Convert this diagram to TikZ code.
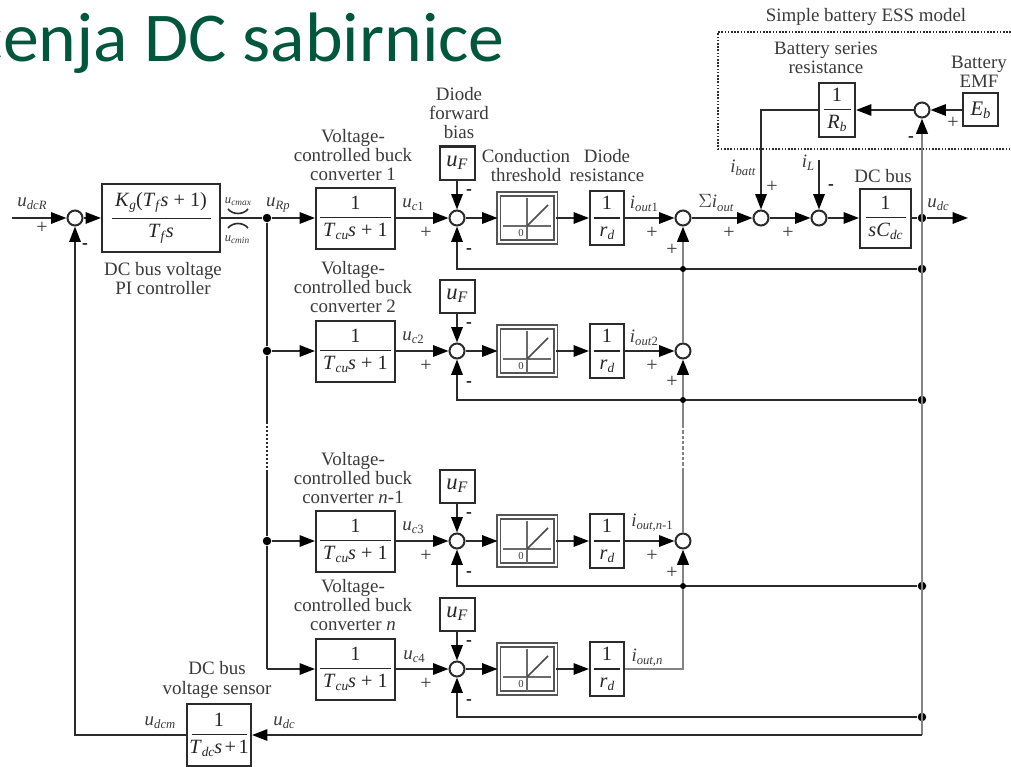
\documentclass[tikz,border=0pt]{standalone}
\usepackage{fontspec}
\setmainfont{Liberation Serif}
\newfontfamily\titlefont{Carlito}
\usetikzlibrary{arrows.meta,calc}
\definecolor{ln}{HTML}{2B2B2B}
\definecolor{tx}{HTML}{3A3A3A}
\definecolor{ttl}{HTML}{00573C}
\newcommand{\sbs}[1]{\raisebox{-.35ex}{\fontsize{9.5}{9.5}\selectfont #1}}
\newcommand{\fsub}[1]{\raisebox{-.35ex}{\fontsize{10}{10}\selectfont #1}}
\newcommand{\ffr}[3]{$\displaystyle{\mbox{#2}\above 1.2pt\makebox[\dimexpr #1pt*3/4\relax]{#3}}$}
\newcommand{\Tcu}{\textit{T}\fsub{\textit{cu}}\textit{s} + 1}
\tikzset{
  x=.75pt,y=-.75pt,
  wire/.style={draw=ln,line width=1.35pt},
  wireg/.style={draw=ln!58,line width=2.2pt},
  arr/.style={wire,-{Triangle[length=11.5pt,width=8.5pt,color=black]}},
  arrg/.style={wireg,-{Triangle[length=11.5pt,width=8.5pt,color=black]}},
  blk/.style 2 args={draw=ln,line width=1.5pt,fill=white,inner sep=0pt,text=black!85,minimum width=#1*.75pt,minimum height=#2*.75pt,font=\fontsize{15.2}{15.5}\selectfont},
  dio/.style={draw=ln!80,double=white,double distance=1.5pt,line width=1.4pt,inner sep=0pt,fill=white,minimum width=57*.75pt,minimum height=48*.75pt},
  sumn/.style={circle,draw=ln,line width=1.5pt,fill=white,minimum size=15*.75pt,inner sep=0pt},
  jdot/.style={circle,fill=black,minimum size=8.5*.75pt,inner sep=0pt},
  hump/.style={circle,fill=black,minimum size=6*.75pt,inner sep=0pt},
  lab/.style={text=tx,font=\fontsize{14.2}{14.4}\selectfont,align=center,inner sep=0pt},
  sgn/.style={text=tx,font=\fontsize{15}{15}\selectfont,inner sep=0pt},
  neg/.style={text=black,font=\bfseries\fontsize{13}{13}\selectfont,inner sep=0pt},
  smalllab/.style={text=tx,font=\fontsize{9.5}{9.5}\selectfont,inner sep=0pt},
}
\begin{document}
\begin{tikzpicture}
\useasboundingbox (0,0) rectangle (1011,767);
\fill[white] (0,0) rectangle (1011,767);
% title
\node[anchor=base east,inner sep=0pt,text=ttl,font=\titlefont\fontsize{52.5}{52.5}\selectfont] (title) at (505,62) {\scalebox{1.025}[1]{cenja DC sabirnice}};

% dotted ESS frame
\coordinate (ftr) at (1011,32);
\coordinate (fbr) at (1011,149);
\draw[draw=ln,line width=1.2pt,dash pattern=on 1.2pt off 1.2pt] (ftr) -- (718,32) -- (718,149) -- (fbr);

% main blocks
\node[sumn] (s0) at (75,218) {};
\node[blk={118}{68}] (pi) at (161,218) {\ffr{99}{\textit{K}\fsub{\textit{g}}(\textit{T}\fsub{\textit{f}}\textit{s} + 1)}{\textit{T}\fsub{\textit{f}}\textit{s}}};
\coordinate (in0) at (12,218);
\node[jdot] (j1) at (267,218) {};
\node[jdot] (j2) at (267,351) {};
\node[jdot] (j3) at (267,541) {};
\coordinate (j4) at (267,669);
\coordinate (jm1) at (267,422);
\coordinate (jm2) at (267,470);

\foreach \i/\y in {1/218,2/351,3/541,4/669}{
  \node[blk={79}{61}] (b\i) at (355.5,\y) {\ffr{71}{1}{\Tcu}};
  \node[sumn] (s\i) at (457,\y) {};
  \node[dio] (d\i) at (527,\y) {};
  \node[blk={34}{54}] (r\i) at (607,\y) {\ffr{26}{1}{\textit{r}\fsub{\textit{d}}}};
  \node[blk={35}{33},font=\fontsize{17}{17}\selectfont] (u\i) at (457,\y-55) {\textit{u}\raisebox{-.3ex}{\fontsize{12}{12}\selectfont\textit{F}}};
  % nonlinearity
  \draw[draw=ln!70,line width=1.3pt] (503,\y+8) -- (551,\y+8);
  \draw[draw=ln!70,line width=1.3pt] (527,\y-20) -- (527,\y+22);
  \draw[draw=ln!85,line width=1.3pt] (527,\y+8) -- (548,\y-13);
  \node[inner sep=0pt,text=tx,fill=white,font=\fontsize{8}{8}\selectfont] at (521,\y+15) {0};
  % signs
  \node[sgn] at (426,\y+15) {+};
  \node[neg] at (469,\y-26) {-};
  \node[neg] at (469,\y+33) {-};
  \draw[arr] (b\i) -- (s\i);
  \draw[arr] (s\i) -- (d\i);
  \draw[arr] (d\i) -- (r\i);
  \draw[arr] (u\i) -- (s\i);
}
\node[sumn] (o1) at (683,218) {};
\node[sumn] (o2) at (683,351) {};
\node[sumn] (o3) at (683,541) {};
\coordinate (om1) at (683,425);
\coordinate (om2) at (683,470);

\node[sumn] (sb) at (761,218) {};
\node[sumn] (sl) at (819,218) {};
\node[blk={51}{59}] (c) at (885.5,218) {\ffr{40}{1}{\textit{sC}\fsub{\textit{dc}}}};
\node[jdot] (jo) at (922,218) {};
\coordinate (out) at (968,218);
\node[sumn] (se) at (922,110) {};
\node[blk={36}{54}] (rb) at (837,110) {\ffr{27}{1}{\textit{R}\fsub{\textit{b}}}};
\node[blk={35}{33},font=\fontsize{15.5}{15.5}\selectfont] (eb) at (980.5,110) {\textit{E}\raisebox{-.3ex}{\fontsize{11}{11}\selectfont\textit{b}}};
\coordinate (il) at (819,160);
\node[jdot] (f1) at (922,269) {};
\node[jdot] (f2) at (922,400) {};
\node[jdot] (f3) at (922,586) {};
\node[jdot] (f4) at (922,717) {};
\coordinate (fb) at (922,735);
\node[blk={64}{62}] (sens) at (219,735) {\ffr{55}{1}{\textit{T}\fsub{\textit{dc}}\textit{s}\kern.12em+\kern.12em1}};

% thick verticals and dotted parts
\draw[arrg] (o2) -- (o1);
\draw[arrg] (om1) -- (o2);
\draw[wireg] (om2) -- (o3);
\draw[wireg,dash pattern=on 2.5pt off 1.5pt] (om1) -- (om2);
\draw[wire,dash pattern=on 1.5pt off 1.5pt] (jm1) -- (jm2);
\draw[arrg] (fb) -- (se);

% forward wiring
\draw[arr] (in0) -- (s0);
\draw[arr] (s0) -- (pi);
\draw[wire] (pi) -- (j1);
\draw[arr] (j1) -- (b1);
\draw[wire] (j1) -- (j2) -- (jm1);
\draw[wire] (jm2) -- (j3) -- (j4);
\draw[arr] (j2) -- (b2);
\draw[arr] (j3) -- (b3);
\draw[arr] (j4) -- (b4);
\foreach \i in {1,2,3}{\draw[arr] (r\i) -- (o\i);}
\draw[arrg] (r4) -| (o3);
\draw[arr] (o1) -- (sb);
\draw[arr] (sb) -- (sl);
\draw[arr] (sl) -- (c);
\draw[wire] (c) -- (jo);
\draw[arr] (jo) -- (out);
\draw[arr] (il) -- (sl);
\draw[arr] (eb) -- (se);
\draw[arr] (se) -- (rb);
\draw[arr] (rb) -| (sb);

% feedback
\foreach \i in {1,2,3,4}{\draw[arr] (f\i) -| (s\i);}
\draw[arr] (fb) -- (sens);
\draw[arr] (sens) -| (s0);
\node[hump] (h1) at (683,269) {};
\node[hump] (h2) at (683,400) {};
\node[hump] (h3) at (683,586) {};

% saturation marks
\draw[draw=ln,line width=1.2pt] (228,209) .. controls (233,215) and (243,215) .. (248,209);
\draw[draw=ln,line width=1.2pt] (228,228) .. controls (233,222) and (243,222) .. (248,228);

% labels
\node[lab] at (32,204) {\textit{u}\sbs{\textit{dcR}}};
\node[sgn] at (42,228) {+};
\node[neg] at (85,246) {-};
\node[smalllab] at (238,202) {\textit{u}\raisebox{-.3ex}{\fontsize{7}{7}\selectfont\textit{cmax}}};
\node[smalllab] at (237,240) {\textit{u}\raisebox{-.3ex}{\fontsize{7}{7}\selectfont\textit{cmin}}};
\node[lab] at (278,205) {\textit{u}\sbs{\textit{Rp}}};
\node[lab] at (163,278.5) {DC bus voltage\\PI controller};
\node[lab] at (353,155) {Voltage-\\controlled buck\\converter 1};
\node[lab] at (353,287) {Voltage-\\controlled buck\\converter 2};
\node[lab] at (353,478) {Voltage-\\controlled buck\\converter \textit{n}-1};
\node[lab] at (353,605) {Voltage-\\controlled buck\\converter \textit{n}};
\node[lab] at (413,205) {\textit{u}\sbs{\textit{c}1}};
\node[lab] at (413,338) {\textit{u}\sbs{\textit{c}2}};
\node[lab] at (413,528) {\textit{u}\sbs{\textit{c}3}};
\node[lab] at (414,657) {\textit{u}\sbs{\textit{c}4}};
\node[lab] at (459,113) {Diode\\forward\\bias};
\node[lab] at (526,165.5) {Conduction\\threshold};
\node[lab] at (607,165.5) {Diode\\resistance};
\node[lab] at (644,204) {\textit{i}\sbs{\textit{out}1}};
\node[lab] at (644,338) {\textit{i}\sbs{\textit{out}2}};
\node[lab] at (652,523) {\textit{i}\sbs{\textit{out,n}-1}};
\node[lab] at (647,658) {\textit{i}\sbs{\textit{out,n}}};
\foreach \y in {233,366,556}{\node[sgn] at (652,\y) {+};}
\node[sgn] at (672,250) {+};
\node[sgn] at (672,382) {+};
\node[sgn] at (672,573) {+};
\node[lab] at (716,203) {$\Sigma$\textit{i}\sbs{\textit{out}}};
\node[sgn] at (729,233) {+};
\node[sgn] at (788,233) {+};
\node[sgn] at (772,187) {+};
\node[lab] at (743,168) {\textit{i}\sbs{\textit{batt}}};
\node[lab] at (808,163) {\textit{i}\sbs{\textit{L}}};
\node[neg] at (831,187) {-};
\node[lab] at (883,176) {DC bus};
\node[lab] at (938,205) {\textit{u}\sbs{\textit{dc}}};
\node[lab] at (866,17) {Simple battery ESS model};
\node[lab] at (826,58) {Battery series\\resistance};
\node[lab] at (979,71.5) {Battery\\EMF};
\node[sgn] at (953,123) {+};
\node[neg] at (911,139) {-};
\node[lab] at (160,723) {\textit{u}\sbs{\textit{dcm}}};
\node[lab] at (284,723) {\textit{u}\sbs{\textit{dc}}};
\node[lab] at (217,680) {DC bus\\voltage sensor};
\end{tikzpicture}
\end{document}
